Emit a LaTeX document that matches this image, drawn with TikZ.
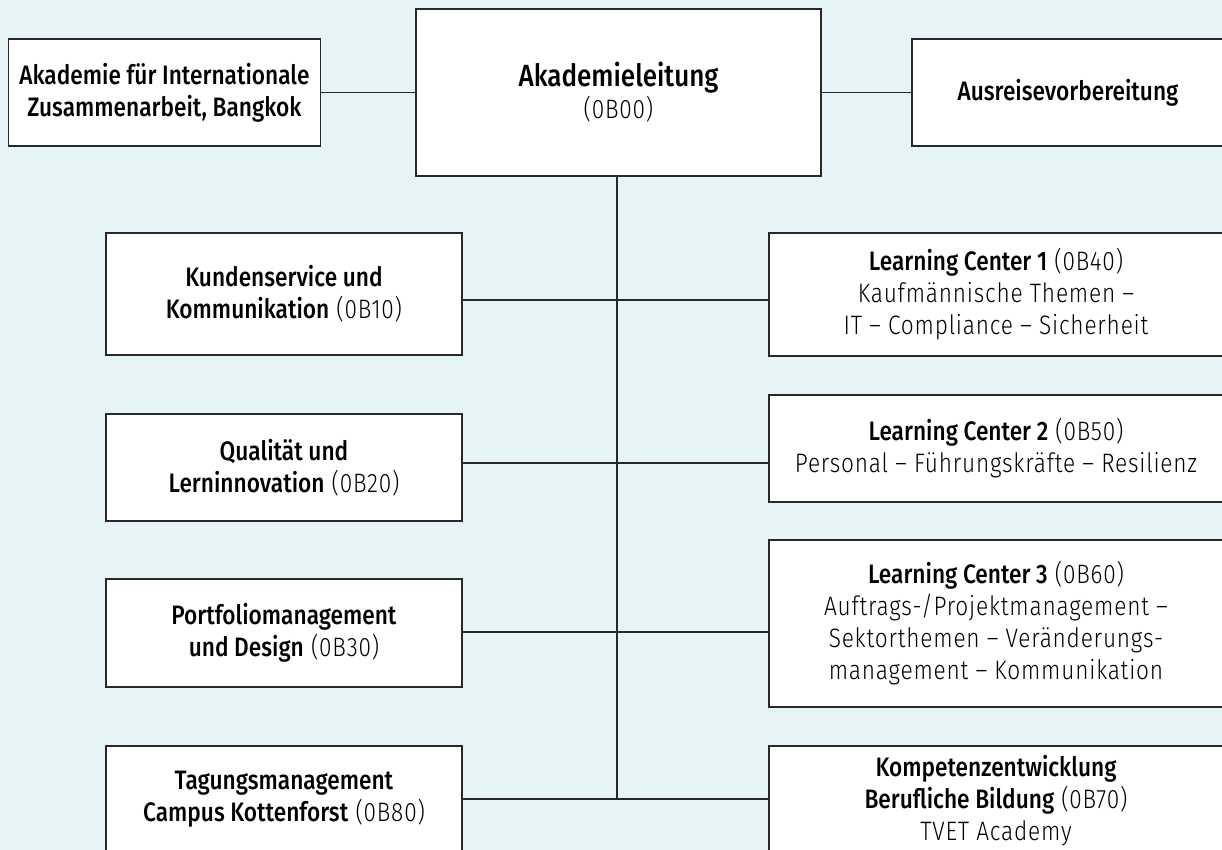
\documentclass[tikz,border=0pt]{standalone}
\usepackage{fontspec}
\setmainfont{Fira Sans}[FakeStretch=0.85, UprightFont=* Light, BoldFont=* Medium,
  UprightFeatures={LetterSpace=3}]
\usetikzlibrary{positioning,calc}
\definecolor{PaleCyan}{RGB}{230,244,245}
\definecolor{DarkLine}{RGB}{40,40,40}
\tikzset{
  unit/.style={draw=DarkLine,fill=white,line width=1.1pt,align=center,
               font=\fontsize{20}{24}\selectfont,inner sep=0pt},
  topbox/.style={unit,minimum width=234pt,minimum height=80.25pt},
  leftbox/.style={unit,minimum width=267pt},
  rightbox/.style={unit,minimum width=340.5pt},
  link/.style={DarkLine,line width=1pt},
}

\begin{document}
\begin{tikzpicture}[x=0.75pt,y=-0.75pt]
  % Canvas
  \useasboundingbox (0,0) rectangle (1222,850);
  \clip (0,0) rectangle (1222,850);
  \fill[PaleCyan] (0,0) rectangle (1222,850);

  % Top row
  \node[unit,minimum width=303.75pt,minimum height=125.25pt] (lead) at (618.5,92.5)
    {{\fontsize{23}{27}\selectfont\bfseries Akademieleitung}\\(0B00)};
  \node[topbox] (bkk) at (164.5,92.5)
    {\bfseries Akademie für Internationale\\\bfseries Zusammenarbeit, Bangkok};
  \node[topbox] (ausr) at (1068,92.5) {\bfseries Ausreisevorbereitung};

  % Left column
  \node[leftbox,minimum height=91.5pt] (kund) at (284,294)
    {\textbf{Kundenservice und}\\\textbf{Kommunikation} (0B10)};
  \node[leftbox,minimum height=80.25pt] (qual) at (284,467.5)
    {\textbf{Qualität und}\\\textbf{Lerninnovation} (0B20)};
  \node[leftbox,minimum height=81pt] (port) at (284,633)
    {\textbf{Portfoliomanagement}\\\textbf{und Design} (0B30)};
  \node[leftbox,minimum height=79.5pt] (tag) at (284,799)
    {\textbf{Tagungsmanagement}\\\textbf{Campus Kottenforst} (0B80)};

  % Right column
  \node[rightbox,minimum height=92.25pt] (lc1) at (996,294.5)
    {\textbf{Learning Center 1} (0B40)\\Kaufmännische Themen --\\IT -- Compliance -- Sicherheit};
  \node[rightbox,minimum height=80.25pt] (lc2) at (996,448.5)
    {\textbf{Learning Center 2} (0B50)\\Personal -- Führungskräfte -- Resilienz};
  \node[rightbox,minimum height=125.25pt] (lc3) at (996,623.5)
    {\textbf{Learning Center 3} (0B60)\\Auftrags-/Projektmanagement --\\Sektorthemen -- Veränderungs-\\management -- Kommunikation};
  \node[rightbox,minimum height=82.5pt] (komp) at (996,801)
    {\textbf{Kompetenzentwicklung}\\\textbf{Berufliche Bildung} (0B70)\\TVET Academy};

  % Branch points on the trunk
  \coordinate (r1) at (617,300);
  \coordinate (r2) at (617,463);
  \coordinate (r3) at (617,632);
  \coordinate (r4) at (617,799);

  % Connectors
  \draw[link] (bkk) -- (lead);
  \draw[link] (lead) -- (ausr);
  \draw[link] (lead.south -| r1) -- (r4);
  \draw[link] (kund.east |- r1) -- (lc1.west |- r1);
  \draw[link] (qual.east |- r2) -- (lc2.west |- r2);
  \draw[link] (port.east |- r3) -- (lc3.west |- r3);
  \draw[link] (tag.east |- r4) -- (komp.west |- r4);
\end{tikzpicture}
\end{document}
